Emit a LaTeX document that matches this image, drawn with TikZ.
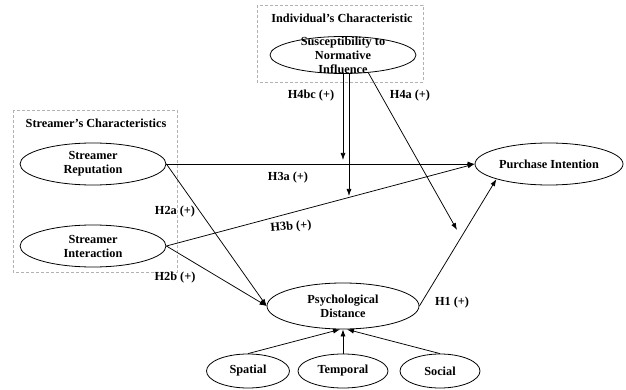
\documentclass[tikz,border=0pt]{standalone}
\usepackage{fontspec}
\setmainfont{Liberation Serif}
\usetikzlibrary{shapes.geometric, arrows.meta}

\tikzset{
  construct/.style={draw, ellipse, inner sep=0pt, line width=0.8pt, align=center,
    font=\bfseries\fontsize{12.3}{14}\selectfont},
  hyp/.style={font=\bfseries\fontsize{12.3}{14}\selectfont, inner sep=1pt},
  link/.style={line width=0.75pt, -{Latex[length=7pt,width=5pt]}},
  groupbox/.style={draw=gray!60, dash pattern=on 3pt off 2pt, line width=0.6pt}
}

\begin{document}
\begin{tikzpicture}[x=1pt, y=-1pt]
\useasboundingbox (0,0) rectangle (626,390);

\draw[groupbox] (257,5) rectangle (423,82);
\draw[groupbox] (13,110) rectangle (177,272);

\node[hyp] (indiv) at (342,18) {Individual's Characteristic};
\node[hyp] (streamers) at (96,123) {Streamer's Characteristics};

\node[construct, minimum width=146pt, minimum height=37pt] (sni) at (343,55) {};
\node[hyp, align=center] (snitext) at (sni.center) {Susceptibility to\\Normative\\Influence};
\node[construct, minimum width=146pt, minimum height=42pt] (rep) at (93,164) {Streamer\\Reputation};
\node[construct, minimum width=146pt, minimum height=42pt] (inter) at (93,246) {Streamer\\Interaction};
\node[construct, minimum width=148pt, minimum height=42pt] (pi) at (549,164) {Purchase Intention};
\node[construct, minimum width=152pt, minimum height=46pt] (pd) at (343,306) {Psychological\\Distance};
\node[construct, minimum width=83pt, minimum height=34pt] (spatial) at (248,371) {Spatial};
\node[construct, minimum width=90pt, minimum height=34pt] (temporal) at (343,371) {Temporal};
\node[construct, minimum width=80pt, minimum height=34pt] (social) at (440,371) {Social};

\coordinate (h3amod) at (343,160);
\coordinate (h3bmod) at (349,196);
\coordinate (h4aend) at (457,230);

\draw[link] (rep) -- (pi);
\draw[link] (inter.east) -- (pi.west);
\draw[link] (rep.east) -- (pd.west);
\draw[link] (inter.east) -- (pd.west);
\draw[link] (pd.east) -- (pi.south west);
\draw[link] (sni.south -| h3amod) -- (h3amod);
\draw[link] (sni.south -| h3bmod) -- (h3bmod);
\draw[link] (sni.-35) -- (h4aend);
\draw[link] (spatial.north) -- ([xshift=-3pt]pd.south);
\draw[link] (temporal) -- (pd);
\draw[link] (social.north) -- ([xshift=4pt]pd.south);

\node[hyp] (h4bc) at (311,96) {H4bc (+)};
\node[hyp] (h4a) at (410,96) {H4a (+)};
\node[hyp] (h3a) at (288,178) {H3a (+)};
\node[hyp, rotate=5] (h3b) at (291,227) {H3b (+)};
\node[hyp] (h2a) at (175,212) {H2a (+)};
\node[hyp] (h2b) at (175,278) {H2b (+)};
\node[hyp] (h1) at (452,303) {H1 (+)};
\end{tikzpicture}
\end{document}
